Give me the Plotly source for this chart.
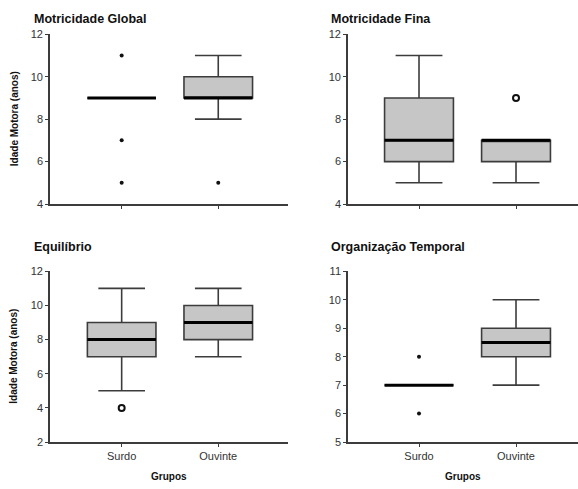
import plotly.graph_objects as go

# ---------------- data ----------------
groups = ["Surdo", "Ouvinte"]
panel_titles = ["Motricidade Global", "Motricidade Fina", "Equilíbrio", "Organização Temporal"]

# per panel: [Surdo, Ouvinte]
q1_vals = [[9, 9], [6, 6], [7, 8], [7, 8]]
median_vals = [[9, 9], [7, 7], [8, 9], [7, 8.5]]
q3_vals = [[9, 10], [9, 7], [9, 10], [7, 9]]
lower_vals = [[9, 8], [5, 5], [5, 7], [7, 7]]
upper_vals = [[9, 11], [11, 7], [11, 11], [7, 10]]
# extreme values (asterisk) and outliers (circle)
extreme_vals = [[[5, 7, 11], [5]], [[], []], [[], []], [[6, 8], []]]
outlier_vals = [[[], []], [[], [9]], [[4], []], [[], []]]

y_ranges = [[4, 12], [4, 12], [2, 12], [5, 11]]
y_dticks = [2, 2, 2, 1]

# ---------------- layout geometry ----------------
W, H = 578, 489
BOX_W = 0.71
positions = [0, 1]

x_px = [(50, 288), (348, 578), (50, 288), (348, 578)]
x_rng = [(-0.742, 1.722), (-0.732, 1.639), (-0.742, 1.722), (-0.732, 1.639)]
y_px = [(29, 203), (29, 203), (272, 447), (272, 447)]

AX = "#3c3c3c"
FILL = "#c6c6c6"

fig = go.Figure()
layout = dict(width=W, height=H, margin=dict(l=0, r=0, t=0, b=0),
              paper_bgcolor="white", plot_bgcolor="white", showlegend=False,
              font=dict(family="Liberation Sans, Arial, sans-serif", color="#333333", size=11))
annotations = []

for i in range(4):
    sx = "" if i == 0 else str(i + 1)
    xa, ya = "x" + sx, "y" + sx
    for g in range(2):
        fig.add_trace(go.Box(
            x=[positions[g]], q1=[q1_vals[i][g]], median=[median_vals[i][g]],
            q3=[q3_vals[i][g]], lowerfence=[lower_vals[i][g]], upperfence=[upper_vals[i][g]],
            width=BOX_W, whiskerwidth=0.68, fillcolor=FILL,
            line=dict(color=AX, width=1.6), boxpoints=False,
            xaxis=xa, yaxis=ya, hoverinfo="skip"))
        # thick median line
        fig.add_trace(go.Scatter(
            x=[positions[g] - BOX_W / 2, positions[g] + BOX_W / 2],
            y=[median_vals[i][g], median_vals[i][g]], mode="lines",
            line=dict(color="black", width=3), xaxis=xa, yaxis=ya, hoverinfo="skip"))
        ev = extreme_vals[i][g]
        if ev:
            fig.add_trace(go.Scatter(x=[positions[g]] * len(ev), y=ev, mode="markers",
                                     marker=dict(symbol="circle", size=4, color="#111111"),
                                     xaxis=xa, yaxis=ya, hoverinfo="skip"))
        ov = outlier_vals[i][g]
        if ov:
            fig.add_trace(go.Scatter(x=[positions[g]] * len(ov), y=ov, mode="markers",
                                     marker=dict(symbol="circle-open", size=6, color="#111111",
                                                 line=dict(width=2, color="#111111")),
                                     xaxis=xa, yaxis=ya, hoverinfo="skip"))

    xd = [x_px[i][0] / W, x_px[i][1] / W]
    yd = [1 - y_px[i][1] / H, 1 - y_px[i][0] / H]
    bottom = i >= 2
    layout["xaxis" + sx] = dict(domain=xd, range=list(x_rng[i]), anchor=ya,
                               tickvals=positions, ticktext=groups if bottom else ["", ""],
                               showline=True, linecolor=AX, linewidth=1.6,
                               ticks="outside", ticklen=3, tickcolor=AX, tickwidth=1,
                               showgrid=False, zeroline=False, fixedrange=True,
                               tickfont=dict(size=11, color="#333333"))
    layout["yaxis" + sx] = dict(domain=yd, range=y_ranges[i], anchor=xa,
                               dtick=y_dticks[i], tick0=0,
                               showline=True, linecolor=AX, linewidth=1.6,
                               ticks="outside", ticklen=3, tickcolor=AX, tickwidth=1,
                               showgrid=False, zeroline=False, fixedrange=True,
                               tickfont=dict(size=11, color="#333333"))
    # panel title
    tx = 32 if i % 2 == 0 else 329
    ty = 13 if i < 2 else 247
    annotations.append(dict(text="<b>" + panel_titles[i] + "</b>", xref="paper", yref="paper",
                            x=tx / W, y=1 - ty / H, xanchor="left", yanchor="middle",
                            showarrow=False, font=dict(size=12.5, color="#111111")))
    if i % 2 == 0:
        cy = (y_px[i][0] + y_px[i][1]) / 2
        annotations.append(dict(text="<b>Idade Motora (anos)</b>", xref="paper", yref="paper",
                                x=14 / W, y=1 - cy / H, textangle=-90, xanchor="center",
                                yanchor="middle", showarrow=False,
                                font=dict(size=10, color="#111111")))
    if bottom:
        cx = (x_px[i][0] + x_px[i][1]) / 2
        annotations.append(dict(text="<b>Grupos</b>", xref="paper", yref="paper",
                                x=cx / W, y=1 - 482 / H, xanchor="center", yanchor="middle",
                                showarrow=False, font=dict(size=10, color="#111111")))

layout["annotations"] = annotations
fig.update_layout(**layout)
fig.write_html("out.html")
